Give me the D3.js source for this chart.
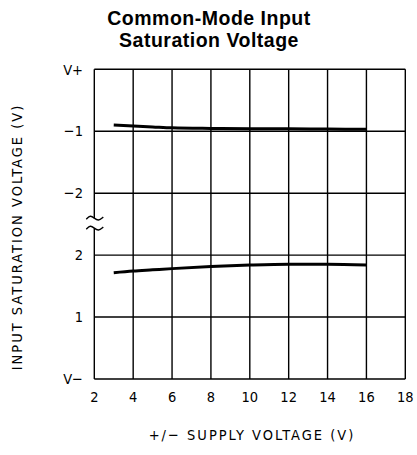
<!DOCTYPE html>
<html>
<head>
<meta charset="utf-8">
<script src="https://cdn.jsdelivr.net/npm/d3@7"></script>
<style>
  body { margin: 0; background: #fff; }
  svg text { fill: #000; }
  .title { font-family: "Liberation Sans", Arial, sans-serif; font-weight: bold; font-size: 19.5px; letter-spacing: 0.5px; }
  .lbl { font-family: "DejaVu Sans", sans-serif; font-stretch: condensed; font-size: 14.5px; }
</style>
</head>
<body>
<div id="chart"></div>
<script>
// supply voltage (+/- V)
var supply = [3, 4, 5, 6, 8, 10, 12, 14, 16];
// upper limit, volts relative to V+
var upperSat = [-0.90, -0.915, -0.93, -0.945, -0.955, -0.96, -0.96, -0.965, -0.968];
// lower limit, volts relative to V-
var lowerSat = [1.715, 1.742, 1.762, 1.782, 1.815, 1.839, 1.852, 1.852, 1.84];

var xTicks = [2, 4, 6, 8, 10, 12, 14, 16, 18];
var topTicks = [0, -1, -2];
var topLabels = ["V+", "\u22121", "\u22122"];
var botTicks = [2, 1, 0];
var botLabels = ["2", "1", "V\u2212"];

var width = 417, height = 455;
var m = { left: 94.3, right: 11.7, top: 69.3, bottom: 76 };
var plotH = height - m.top - m.bottom;
var row = plotH / 5;

var svg = d3.select("#chart").append("svg")
  .attr("width", width)
  .attr("height", height);

var x = d3.scaleLinear().domain([2, 18]).range([m.left, width - m.right]);
// two pieces of the broken axis
var yTop = d3.scaleLinear().domain([0, -2]).range([m.top, m.top + 2 * row]);
var yBot = d3.scaleLinear().domain([0, 2]).range([m.top + plotH, m.top + plotH - 2 * row]);

// title
svg.append("text").attr("class", "title")
  .attr("x", 209).attr("y", 25).attr("text-anchor", "middle")
  .text("Common-Mode Input");
svg.append("text").attr("class", "title")
  .attr("x", 209).attr("y", 46.5).attr("text-anchor", "middle")
  .text("Saturation Voltage");

var grid = svg.append("g").attr("stroke", "#000").attr("stroke-width", 1.4);

// horizontal gridlines
var hy = topTicks.map(function(d) { return yTop(d); })
  .concat(botTicks.map(function(d) { return yBot(d); }));
grid.selectAll("line.h").data(hy).enter().append("line")
  .attr("class", "h")
  .attr("x1", x(2)).attr("x2", x(18))
  .attr("y1", function(d) { return d; }).attr("y2", function(d) { return d; });

// vertical gridlines (left axis is broken)
var breakY = (yTop(-2) + yBot(2)) / 2;
grid.selectAll("line.v").data(xTicks.slice(1)).enter().append("line")
  .attr("class", "v")
  .attr("x1", function(d) { return x(d); }).attr("x2", function(d) { return x(d); })
  .attr("y1", m.top).attr("y2", m.top + plotH);
grid.append("line")
  .attr("x1", x(2)).attr("x2", x(2))
  .attr("y1", m.top).attr("y2", breakY - 6);
grid.append("line")
  .attr("x1", x(2)).attr("x2", x(2))
  .attr("y1", breakY + 4).attr("y2", m.top + plotH);

// break marks
var wave = d3.line().curve(d3.curveBasis);
[breakY - 6, breakY + 4].forEach(function(cy) {
  var cx = x(2);
  svg.append("path")
    .attr("d", wave([[cx - 8, cy + 1], [cx - 4, cy - 3], [cx, cy], [cx + 4, cy + 3], [cx + 9, cy - 1]]))
    .attr("fill", "none").attr("stroke", "#000").attr("stroke-width", 1.4);
});

// y tick labels
svg.selectAll("text.yt").data(topTicks).enter().append("text")
  .attr("class", "lbl yt")
  .attr("x", 83).attr("y", function(d) { return yTop(d); })
  .attr("dy", "0.36em").attr("text-anchor", "end")
  .text(function(d, i) { return topLabels[i]; });
svg.selectAll("text.yb").data(botTicks).enter().append("text")
  .attr("class", "lbl yb")
  .attr("x", 83).attr("y", function(d) { return yBot(d); })
  .attr("dy", "0.36em").attr("text-anchor", "end")
  .text(function(d, i) { return botLabels[i]; });

// x tick labels
svg.selectAll("text.xt").data(xTicks).enter().append("text")
  .attr("class", "lbl xt")
  .attr("x", function(d) { return x(d); }).attr("y", 402)
  .attr("text-anchor", "middle")
  .text(function(d) { return d; });

// axis titles
svg.append("text").attr("class", "lbl")
  .attr("x", 252).attr("y", 440).attr("text-anchor", "middle")
  .attr("letter-spacing", 2)
  .text("+/\u2212 SUPPLY VOLTAGE (V)");
svg.append("text").attr("class", "lbl")
  .attr("transform", "translate(22,237) rotate(-90)")
  .attr("text-anchor", "middle")
  .attr("letter-spacing", 2)
  .text("INPUT SATURATION VOLTAGE (V)");

// curves
var lineTop = d3.line()
  .x(function(d, i) { return x(supply[i]); })
  .y(function(d) { return yTop(d); })
  .curve(d3.curveMonotoneX);
var lineBot = d3.line()
  .x(function(d, i) { return x(supply[i]); })
  .y(function(d) { return yBot(d); })
  .curve(d3.curveMonotoneX);

svg.append("path").datum(upperSat)
  .attr("d", lineTop)
  .attr("fill", "none").attr("stroke", "#000").attr("stroke-width", 3);
svg.append("path").datum(lowerSat)
  .attr("d", lineBot)
  .attr("fill", "none").attr("stroke", "#000").attr("stroke-width", 3);
</script>
</body>
</html>
